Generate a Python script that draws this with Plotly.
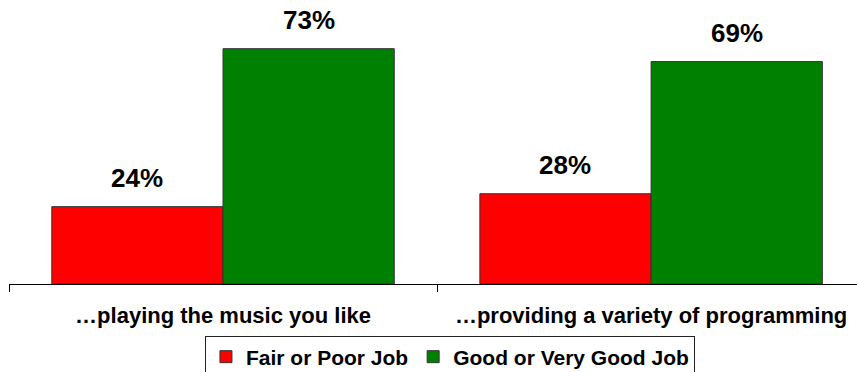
import plotly.graph_objects as go

categories = ["…playing the music you like", "…providing a variety of programming"]
fair_poor = [24, 28]
good_very_good = [73, 69]
series_names = ["Fair or Poor Job", "Good or Very Good Job"]
series_colors = ["#FF0000", "#008000"]

FONT = "Liberation Sans, Arial, sans-serif"
BARGAP = 0.2

fig = go.Figure()
for name, vals, col in zip(series_names, [fair_poor, good_very_good], series_colors):
    fig.add_trace(go.Bar(
        name=f"<b>{name}</b>", x=categories, y=vals,
        marker=dict(color=col, line=dict(color="#333333", width=1)),
    ))

# value labels above each bar, positioned from the bar's group offset
n_series = 2
bar_w = (1 - BARGAP) / n_series
for s, vals in enumerate([fair_poor, good_very_good]):
    offset = -0.5 * (1 - BARGAP) + bar_w * (s + 0.5)
    for i, v in enumerate(vals):
        fig.add_annotation(
            x=i + offset, y=v, xref="x", yref="y",
            text=f"<b>{v}%</b>", showarrow=False,
            yanchor="bottom", yshift=12,
            font=dict(family=FONT, size=26, color="black"),
        )

fig.update_layout(
    width=857, height=372,
    margin=dict(l=9, r=0, t=10, b=88, autoexpand=False),
    paper_bgcolor="white", plot_bgcolor="white",
    barmode="group", bargap=BARGAP, bargroupgap=0,
    showlegend=True,
    legend=dict(
        orientation="h", x=0.52, xanchor="center", y=-0.188, yanchor="top",
        font=dict(family=FONT, size=21, color="black"),
        bordercolor="#222222", borderwidth=1, bgcolor="white",
        itemwidth=30, tracegroupgap=0,
    ),
    font=dict(family=FONT, color="black"),
)
fig.update_xaxes(
    type="category", range=[-0.5, 1.481],
    showline=True, linecolor="black", linewidth=1,
    ticks="outside", tickson="boundaries", ticklen=7, tickcolor="black",
    tickfont=dict(family=FONT, size=22, color="black"),
    ticklabelstandoff=12,
    tickvals=categories, ticktext=[f"<b>{c}</b>" for c in categories],
    showgrid=False, zeroline=False,
)
fig.update_yaxes(range=[0, 85], visible=False, showgrid=False, zeroline=False)

fig.write_html("out.html")
